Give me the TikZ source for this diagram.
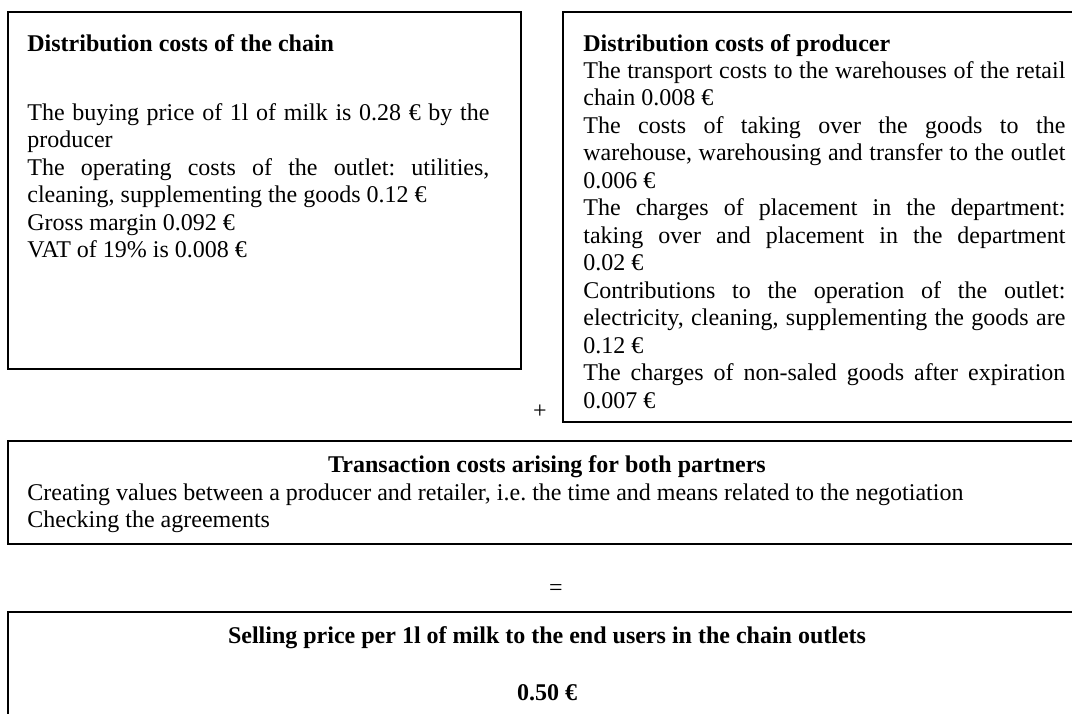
\documentclass[tikz,border=0pt]{standalone}
\usepackage{fontspec}
\setmainfont{Liberation Serif}
\newcommand\costfont{\fontsize{12}{13.75}\selectfont\frenchspacing}
\tolerance=9999
\hyphenpenalty=10000
\hbadness=10000
\begin{document}
\begin{tikzpicture}[x=0.5pt,y=-0.5pt,
  frame/.style={line width=0.9pt},
  heading/.style={inner sep=0pt,font=\costfont\bfseries},
  body/.style={inner sep=0pt,anchor=base west,font=\costfont,align=justify},
  plainbody/.style={inner sep=0pt,anchor=base west,font=\costfont,align=flush left}]
  \useasboundingbox (0,0) rectangle (1072,713);
  \clip (0,0) rectangle (1072,713);
  % costs of the chain
  \draw[frame]
    (8,12)
    --
    (521,12)
    --
    (521,369)
    --
    (8,369)
    --
    cycle;
  % costs of the producer
  \draw[frame]
    (563,12)
    --
    (1086,12)
    --
    (1086,422)
    --
    (563,422)
    --
    cycle;
  % transaction costs
  \draw[frame]
    (8,441)
    --
    (1086,441)
    --
    (1086,544)
    --
    (8,544)
    --
    cycle;
  % selling price
  \draw[frame]
    (8,612)
    --
    (1086,612)
    --
    (1086,760)
    --
    (8,760)
    --
    cycle;
  \node[heading,anchor=base west] (chainhead) at (27,51)
    {Distribution costs of the chain};
  \node[body,text width=231pt] (chainbody) at (27,120)
    {The buying price of 1l of milk is 0.28 € by the\linebreak producer\\
     The operating costs of the outlet: utilities,\linebreak cleaning, supplementing the goods 0.12 €\\
     Gross margin 0.092 €\\
     VAT of 19\% is 0.008 €};
  \node[heading,anchor=base west] (prodhead) at (583,51)
    {Distribution costs of producer};
  \node[body,text width=241pt] (prodbody) at (583,78)
    {The transport costs to the warehouses of the retail\linebreak chain 0.008 €\\
     The costs of taking over the goods to the\linebreak warehouse, warehousing and transfer to the outlet\linebreak 0.006 €\\
     The charges of placement in the department:\linebreak taking over and placement in the department\linebreak 0.02 €\\
     Contributions to the operation of the outlet:\linebreak electricity, cleaning, supplementing the goods are\linebreak 0.12 €\\
     The charges of non-saled goods after expiration\linebreak 0.007 €};
  \node[font=\costfont,inner sep=0pt] (plus) at (540,412) {+};
  \node[heading,anchor=base] (transhead) at (547,472)
    {Transaction costs arising for both partners};
  \node[plainbody,text width=520pt] (transbody) at (27,500)
    {Creating values between a producer and retailer, i.e. the time and means related to the negotiation\\
     Checking the agreements};
  \node[font=\costfont,inner sep=0pt] (equals) at (556,590) {=};
  \node[heading,anchor=base] (sellhead) at (547,643)
    {Selling price per 1l of milk to the end users in the chain outlets};
  \node[heading,anchor=base] (sellprice) at (547,700) {0.50 €};
\end{tikzpicture}
\end{document}
